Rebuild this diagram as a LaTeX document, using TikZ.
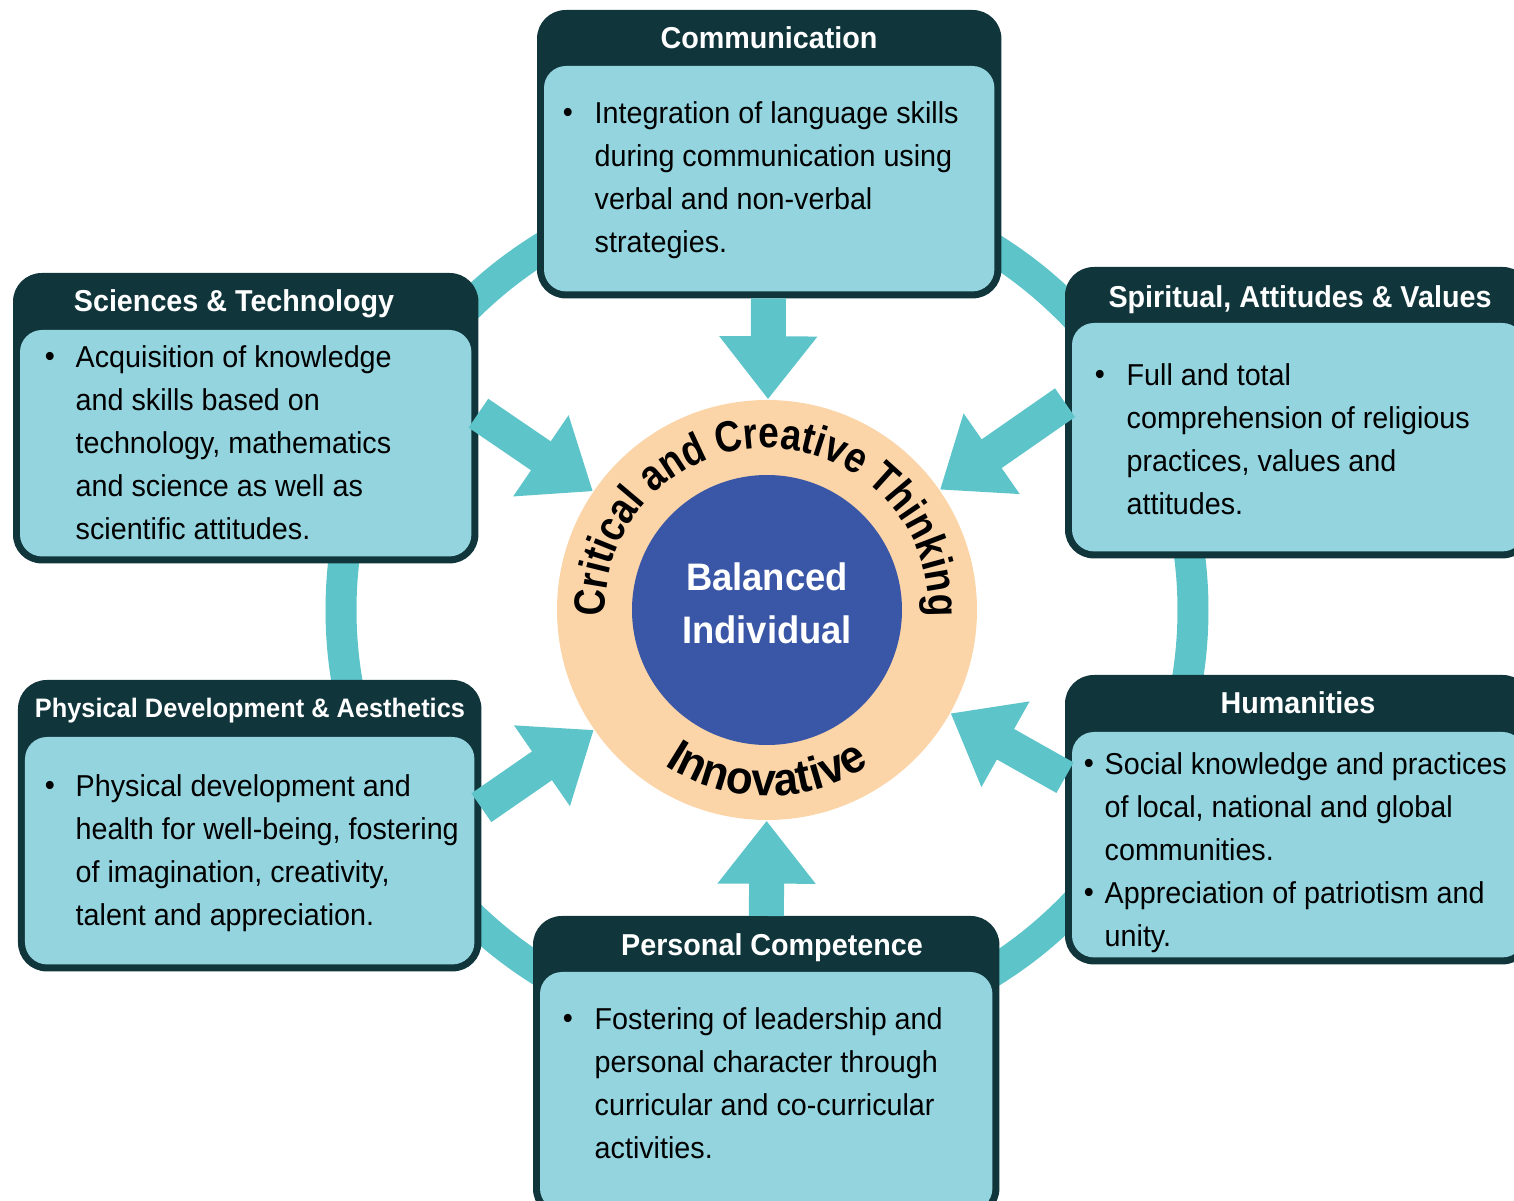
\documentclass[tikz,border=0pt]{standalone}
\usepackage{fontspec}
\setmainfont[FakeStretch=0.95]{Liberation Sans}
\newfontfamily\ringfamily[FakeStretch=0.85]{Liberation Sans}
\usetikzlibrary{arrows.meta,decorations.text}

\definecolor{headdark}{HTML}{10363C}
\definecolor{panelblue}{HTML}{93D4DF}
\definecolor{flowteal}{HTML}{5DC4CA}
\definecolor{corepeach}{HTML}{FBD4A8}
\definecolor{hubblue}{HTML}{3A56A6}

\tikzset{
  area/.style={fill=headdark, draw=headdark, rounded corners=0.28cm, inner sep=0pt, anchor=north west},
  panel/.style={fill=panelblue, rounded corners=0.22cm},
  heading/.style={text=white, font=\fontsize{8.6}{10}\selectfont\bfseries, anchor=base, inner sep=0pt},
  points/.style={font=\fontsize{8.6}{12.2}\selectfont, align=left, anchor=north west, inner sep=0pt},
  dot/.style={font=\fontsize{8.6}{12.2}\selectfont, anchor=base, inner sep=0pt},
  flow/.style={flowteal, line width=0.35cm, -{Triangle[width=0.94cm,length=0.63cm]}},
}

\begin{document}
\begin{tikzpicture}
\useasboundingbox (0,0) rectangle (15.14,-12.01);
\clip (0,0) rectangle (15.14,-12.01);
\coordinate (mid) at (7.67,-6.10);
\draw[flowteal, line width=0.31cm] (mid) circle[radius=4.26cm];

% the six areas
\node[area, minimum width=4.63cm, minimum height=2.87cm] (comm) at (5.37,-0.10) {};
\node[area, minimum width=4.64cm, minimum height=2.89cm] (sci) at (0.13,-2.73) {};
\node[area, minimum width=4.65cm, minimum height=2.90cm] (spir) at (10.65,-2.67) {};
\node[area, minimum width=4.62cm, minimum height=2.90cm] (phys) at (0.18,-6.80) {};
\node[area, minimum width=4.65cm, minimum height=2.88cm] (hum) at (10.65,-6.75) {};
\node[area, minimum width=4.65cm, minimum height=3.00cm] (pers) at (5.33,-9.16) {};

\fill[panel] ([shift={(0.07,-0.56)}]comm.north west) rectangle ([shift={(-0.07,0.07)}]comm.south east);
\fill[panel] ([shift={(0.07,-0.57)}]sci.north west) rectangle ([shift={(-0.07,0.07)}]sci.south east);
\fill[panel] ([shift={(0.07,-0.56)}]spir.north west) rectangle ([shift={(-0.07,0.07)}]spir.south east);
\fill[panel] ([shift={(0.07,-0.57)}]phys.north west) rectangle ([shift={(-0.07,0.07)}]phys.south east);
\fill[panel] ([shift={(0.07,-0.57)}]hum.north west) rectangle ([shift={(-0.07,0.07)}]hum.south east);
\fill[panel] ([shift={(0.07,-0.56)}]pers.north west) rectangle ([shift={(-0.07,0.07)}]pers.south east);

% centre
\node[circle, fill=corepeach, minimum size=4.2cm, inner sep=0pt] (core) at (mid) {};
\node[circle, fill=hubblue, minimum size=2.7cm, inner sep=0pt] (hub) at (mid) {};
\node[text=white, align=center, font=\fontsize{10.9}{15}\selectfont\bfseries] (hubtext) at ([yshift=0.07cm]hub.center) {Balanced\\Individual};

\path[decorate, decoration={text along path, text align=center,
  text={|\ringfamily\bfseries\fontsize{12.4}{14}\selectfont|Critical and Creative Thinking}}]
  ([shift={(190:1.62cm)}]mid) arc[start angle=190, end angle=-10, radius=1.62cm];
\path[decorate, decoration={text along path, text align=center,
  text={|\bfseries\fontsize{13.2}{15}\selectfont|Innovative}}]
  ([shift={(225:1.86cm)}]mid) arc[start angle=225, end angle=315, radius=1.86cm];

% arrows into the centre
\draw[flow] (comm) -- (core);
\draw[flow] (pers) -- (core);
\draw[flow] ([yshift=0.05cm]sci.east) -- (core);
\draw[flow] ([yshift=0.10cm]spir.west) -- (core);
\draw[flow] ([yshift=0.18cm]phys.east) -- (core);
\draw[flow] ([yshift=0.42cm]hum.west) -- (core);

% headings
\node[heading] (commhead) at (7.69,-0.49) {Communication};
\node[heading] (scihead) at (2.34,-3.12) {Sciences \& Technology};
\node[heading] (spirhead) at (13.00,-3.08) {Spiritual, Attitudes \& Values};
\node[heading, font=\fontsize{7.6}{9}\selectfont\bfseries] (physhead) at (2.50,-7.18) {Physical Development \& Aesthetics};
\node[heading] (humhead) at (12.98,-7.14) {Humanities};
\node[heading] (pershead) at (7.72,-9.56) {Personal Competence};

% bullet points
\node[dot] (commdot) at (5.68,-1.23) {\textbullet};
\node[points] (commtext) at (5.94,-1.01) {Integration of language skills\\during communication using\\verbal and non-verbal\\strategies.};
\node[dot] (scidot) at (0.50,-3.67) {\textbullet};
\node[points] (scitext) at (0.75,-3.45) {Acquisition of knowledge\\and skills based on\\technology, mathematics\\and science as well as\\scientific attitudes.};
\node[dot] (spirdot) at (11.00,-3.85) {\textbullet};
\node[points] (spirtext) at (11.26,-3.63) {Full and total\\comprehension of religious\\practices, values and\\attitudes.};
\node[dot] (physdot) at (0.50,-7.96) {\textbullet};
\node[points] (phystext) at (0.75,-7.74) {Physical development and\\health for well-being, fostering\\of imagination, creativity,\\talent and appreciation.};
\node[dot] (humdot) at (10.89,-7.74) {\textbullet};
\node[points] (humtext) at (11.04,-7.52) {Social knowledge and practices\\of local, national and global\\communities.};
\node[dot] (humdotb) at (10.89,-9.03) {\textbullet};
\node[points] (humtextb) at (11.04,-8.81) {Appreciation of patriotism and\\unity.};
\node[dot] (persdot) at (5.68,-10.29) {\textbullet};
\node[points] (perstext) at (5.94,-10.07) {Fostering of leadership and\\personal character through\\curricular and co-curricular\\activities.};
\end{tikzpicture}
\end{document}
